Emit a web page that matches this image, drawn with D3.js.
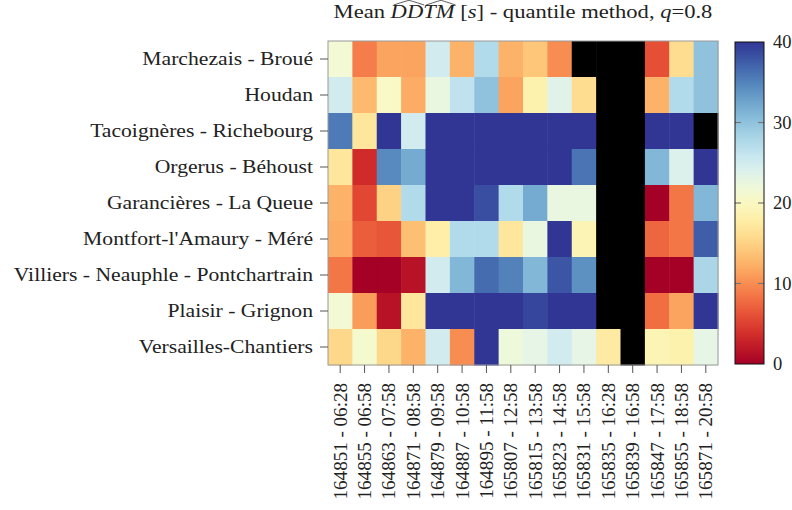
<!DOCTYPE html>
<html><head><meta charset="utf-8">
<script src="https://cdn.jsdelivr.net/npm/d3@7"></script>
<style>body{margin:0;background:#fff;} text{font-family:"Liberation Serif",serif;fill:#222;}</style>
</head><body>
<svg id="chart" width="792" height="510"></svg>
<script>
const rows = ["Marchezais - Broué","Houdan","Tacoignères - Richebourg","Orgerus - Béhoust","Garancières - La Queue","Montfort-l'Amaury - Méré","Villiers - Neauphle - Pontchartrain","Plaisir - Grignon","Versailles-Chantiers"];
const columns = ["164851 - 06:28","164855 - 06:58","164863 - 07:58","164871 - 08:58","164879 - 09:58","164887 - 10:58","164895 - 11:58","165807 - 12:58","165815 - 13:58","165823 - 14:58","165831 - 15:58","165835 - 16:28","165839 - 16:58","165847 - 17:58","165855 - 18:58","165871 - 20:58"];
// null = no data (drawn black)
const vMarchezais = [21.5, 9, 11.5, 11.5, 25, 12.5, 27.5, 12.5, 14, 10, null, null, null, 6, 16, 30];
const vHoudan = [25, 13, 20.5, 12, 22.5, 26.5, 30, 11.5, 18.5, 23.5, 16, null, null, 12.5, 27.5, 30];
const vTacoigneres = [35.5, 17, 40, 25, 40, 40, 40, 40, 40, 40, 40, null, null, 40, 40, null];
const vOrgerus = [17, 3.5, 34.5, 32, 40, 40, 40, 40, 40, 40, 36, null, null, 31, 24, 40];
const vGarancieres = [12.5, 5.5, 15, 27.5, 40, 40, 38.5, 27.5, 32, 22.5, 22.5, null, null, 0, 8.5, 31];
const vMontfort = [12, 7, 6.5, 13.5, 18, 27.5, 27.5, 17, 22.5, 40, 19, null, null, 7.5, 8.5, 37.5];
const vVilliers = [8.5, 0, 0, 1.5, 25, 31, 36.5, 35, 31, 38, 34, null, null, 0, 0, 28];
const vPlaisir = [21.5, 11, 1.5, 17, 40, 40, 40, 40, 39, 40, 40, null, null, 8, 11.5, 40];
const vVersailles = [15.5, 21, 15.5, 12.5, 25, 10, 40, 22, 23, 25, 23, 17.5, null, 19, 18.5, 23];
const values = [vMarchezais, vHoudan, vTacoigneres, vOrgerus, vGarancieres, vMontfort, vVilliers, vPlaisir, vVersailles];
const colorTicks = [0, 10, 20, 30, 40];
const titleParts = [["Mean ", false], ["DDTM", true], [" [", false], ["s", true], ["] - quantile method, ", false], ["q", true], ["=0.8", false]];

const svg = d3.select("#chart");
const pL = 328, pR = 718, pT = 41, pB = 365;
const x = d3.scaleBand().domain(columns).range([pL, pR]);
const y = d3.scaleBand().domain(rows).range([pT, pB]);
const color = d3.scaleSequential(d3.interpolateRdYlBu).domain([0, 40]);
const fs = 18.5;

// widen Times-like glyphs toward Computer Modern proportions
function widen(sel, k) {
  sel.each(function () {
    const w = this.getComputedTextLength();
    d3.select(this).attr("textLength", w * k).attr("lengthAdjust", "spacingAndGlyphs");
  });
}

const cells = [];
values.forEach((arr, i) => arr.forEach((v, j) => cells.push({r: rows[i], c: columns[j], v})));
svg.append("g").selectAll("rect").data(cells).join("rect")
  .attr("x", d => x(d.c)).attr("y", d => y(d.r))
  .attr("width", x.bandwidth() + 0.5).attr("height", y.bandwidth() + 0.5)
  .attr("fill", d => d.v == null ? "#000" : color(d.v));

svg.append("rect").attr("x", pL).attr("y", pT).attr("width", pR - pL).attr("height", pB - pT)
  .attr("fill", "none").attr("stroke", "#999").attr("stroke-width", 1);

// y axis
const yAxis = svg.append("g").attr("transform", `translate(${pL},0)`).call(d3.axisLeft(y).tickSize(8).tickPadding(7));
yAxis.select(".domain").remove();
yAxis.selectAll("line").attr("stroke", "#555");
yAxis.selectAll("text").style("font-size", fs + "px").style("font-family", "Liberation Serif").attr("fill", "#222");
widen(yAxis.selectAll("text"), 1.17);

// x axis
const xAxis = svg.append("g").attr("transform", `translate(0,${pB})`).call(d3.axisBottom(x).tickSize(8).tickPadding(6));
xAxis.select(".domain").remove();
xAxis.selectAll("line").attr("stroke", "#555");
xAxis.selectAll("text").style("font-size", fs + "px").style("font-family", "Liberation Serif").attr("fill", "#222")
  .attr("text-anchor", "end").attr("transform", "rotate(-90)")
  .attr("x", -18).attr("y", 0).attr("dy", "0.35em");
widen(xAxis.selectAll("text"), 1.03);

// title
const title = svg.append("text").attr("x", 523).attr("y", 18).attr("text-anchor", "middle").style("font-size", fs + "px");
titleParts.forEach(p => title.append("tspan").text(p[0]).style("font-style", p[1] ? "italic" : "normal"));
widen(title, 1.22);
// hats over DDTM
const hatSpan = title.selectAll("tspan").nodes()[1];
try {
  const n = hatSpan.getNumberOfChars();
  const s0 = hatSpan.getStartPositionOfChar(0).x, e1 = hatSpan.getEndPositionOfChar(1).x;
  const s2 = hatSpan.getStartPositionOfChar(2).x, e3 = hatSpan.getEndPositionOfChar(n - 1).x;
  const hat = (a, b) => `M${a + 3},5 Q${(a + b) / 2 + 2},0 ${(a + b) / 2 + 2},0.5 Q${(a + b) / 2 + 2},0 ${b + 1},5`;
  svg.append("path").attr("d", hat(s0, e1)).attr("fill", "none").attr("stroke", "#333").attr("stroke-width", 0.8);
  svg.append("path").attr("d", hat(s2, e3)).attr("fill", "none").attr("stroke", "#333").attr("stroke-width", 0.8);
} catch (e) {}

// colorbar
const cbx = 735, cbw = 29, cbTop = 42, cbBottom = 364;
const cy = d3.scaleLinear().domain([0, 40]).range([cbBottom, cbTop]);
const defs = svg.append("defs");
const grad = defs.append("linearGradient").attr("id", "cb").attr("x1", 0).attr("y1", 1).attr("x2", 0).attr("y2", 0);
d3.range(0, 41, 2).forEach(v => grad.append("stop").attr("offset", v / 40).attr("stop-color", color(v)));
svg.append("rect").attr("x", cbx).attr("y", cbTop).attr("width", cbw).attr("height", cbBottom - cbTop).attr("fill", "url(#cb)");
const cbAxis = svg.append("g").attr("transform", `translate(${cbx + cbw},0)`).call(d3.axisRight(cy).tickValues(colorTicks).tickSize(0).tickPadding(9).tickFormat(d3.format("d")));
cbAxis.select(".domain").remove();
cbAxis.selectAll("text").style("font-size", fs + "px").style("font-family", "Liberation Serif").attr("fill", "#222");
svg.append("g").selectAll("line").data(colorTicks.slice(1, -1).flatMap(t => [[t, cbx, cbx + 6], [t, cbx + cbw - 6, cbx + cbw]])).join("line")
  .attr("x1", d => d[1]).attr("x2", d => d[2]).attr("y1", d => cy(d[0])).attr("y2", d => cy(d[0]))
  .attr("stroke", "#777").attr("stroke-width", 1.2);
svg.append("rect").attr("x", cbx).attr("y", cbTop).attr("width", cbw).attr("height", cbBottom - cbTop)
  .attr("fill", "none").attr("stroke", "#111").attr("stroke-width", 1);
</script>
</body></html>
